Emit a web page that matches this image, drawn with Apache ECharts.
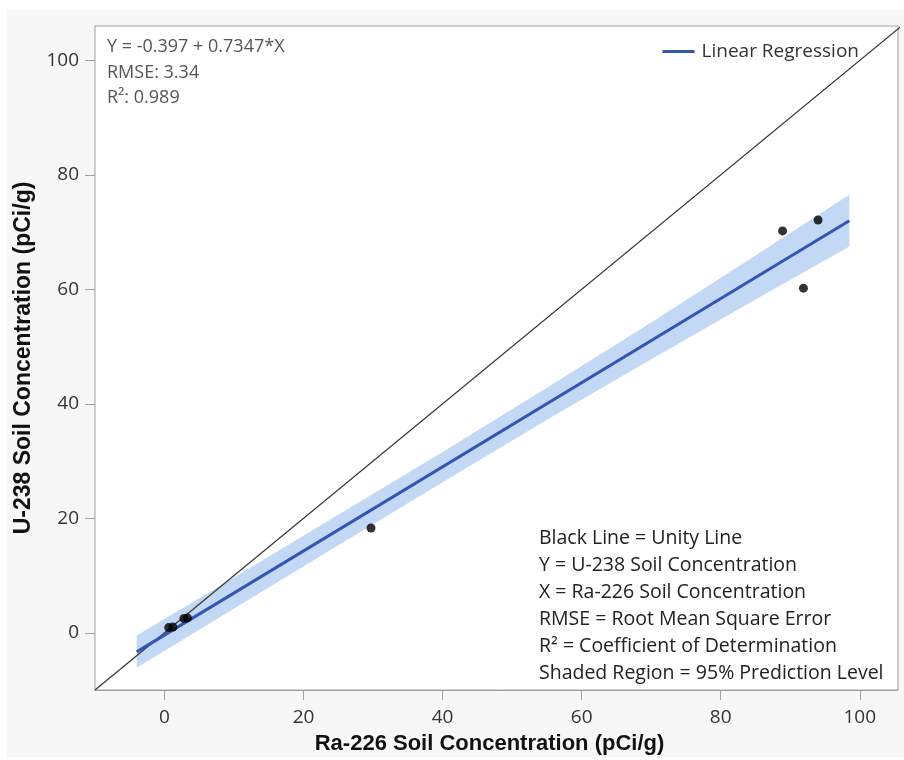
<!DOCTYPE html>
<html>
<head>
<meta charset="utf-8">
<script src="https://cdn.jsdelivr.net/npm/echarts@6/dist/echarts.min.js"></script>
<style>html,body{margin:0;padding:0;background:#fff;}#c{width:904px;height:760px;}</style>
</head>
<body>
<div id="c"></div>
<script>
// Observed points (Ra-226, U-238)
const pointsX = [0.6, 1.2, 2.8, 3.3, 29.7, 88.9, 91.9, 94.0];
const pointsY = [0.9, 1.0, 2.5, 2.6, 18.3, 70.2, 60.2, 72.1];
// Regression line end points
const regX = [-4, 98.5];
const regY = [-3.34, 71.97];
// 95% prediction band
const bandX = [-4, 10, 25, 40, 55, 70, 85, 98.5];
const bandLower = [-6.1, 4.25, 15.3, 26.3, 37.2, 47.8, 58.2, 67.5];
const bandUpper = [-0.5, 9.65, 20.6, 31.6, 42.8, 54.2, 65.9, 76.5];
// Unity line
const unityX = [-10, 106];
const unityY = [-10, 106];
// Ticks
const tickValues = [0, 20, 40, 60, 80, 100];
const xTitle = 'Ra-226 Soil Concentration (pCi/g)';
const yTitle = 'U-238 Soil Concentration (pCi/g)';
const statLines = ['Y = -0.397 + 0.7347*X', 'RMSE: 3.34', 'R²: 0.989'];
const noteLines = ['Black Line = Unity Line', 'Y = U-238 Soil Concentration', 'X = Ra-226 Soil Concentration',
  'RMSE = Root Mean Square Error', 'R² = Coefficient of Determination', 'Shaded Region = 95% Prediction Level'];

const FONT = '"Open Sans", "Noto Sans", sans-serif';
const TITLE_FONT = '"Liberation Sans", Arial, sans-serif';
const chart = echarts.init(document.getElementById('c'), null, {renderer: 'canvas'});

const axisCommon = {
  type: 'value', min: -10,
  axisLine: {show: true, onZero: false, lineStyle: {color: '#a0a0a0', width: 1}},
  axisTick: {show: true, customValues: tickValues, length: 10, lineStyle: {color: '#a0a0a0'}},
  axisLabel: {customValues: tickValues, color: '#333', fontSize: 19, fontFamily: FONT},
  splitLine: {show: false},
  nameLocation: 'middle'
};

const graphics = [
  {type: 'rect', z: -10, silent: true, shape: {x: 7, y: 10, width: 897, height: 747}, style: {fill: '#f7f7f7'}}
];
statLines.forEach((t, i) => graphics.push({type: 'text', x: 107, y: 47 + i * 25.5, z: 100,
  style: {text: t, fill: '#555', font: '18px ' + FONT, verticalAlign: 'middle'}}));
noteLines.forEach((t, i) => graphics.push({type: 'text', x: 539, y: 538 + i * 27.1, z: 100,
  style: {text: t, fill: '#222', font: '19.5px ' + FONT, verticalAlign: 'middle'}}));

chart.setOption({
  backgroundColor: '#ffffff',
  animation: false,
  graphic: graphics,
  grid: {left: 95, right: 6, top: 26, bottom: 67, show: true, backgroundColor: '#ffffff', borderColor: '#a0a0a0', borderWidth: 1, z: 1},
  legend: {
    show: true, right: 40, top: 37, data: ['Linear Regression'],
    icon: 'rect', itemWidth: 32, itemHeight: 3, itemGap: 8,
    textStyle: {color: '#333', fontSize: 19, fontFamily: FONT, padding: [0, 0, 0, 2]}
  },
  xAxis: Object.assign({}, axisCommon, {max: 105.5, name: xTitle, nameGap: 43,
    nameTextStyle: {color: '#111', fontSize: 22, fontWeight: 'bold', fontFamily: TITLE_FONT, padding: [0, 14, 0, 0]},
    axisLabel: Object.assign({}, axisCommon.axisLabel, {margin: 18})}),
  yAxis: Object.assign({}, axisCommon, {max: 106, name: yTitle, nameGap: 57,
    nameTextStyle: {color: '#111', fontSize: 23, fontWeight: 'bold', fontFamily: TITLE_FONT},
    axisLabel: Object.assign({}, axisCommon.axisLabel, {margin: 16})}),
  series: [
    {name: 'band', type: 'custom', silent: true, z: 2, clip: true,
     data: [0],
     renderItem: function (params, api) {
       const pts = [];
       for (let i = 0; i < bandX.length; i++) pts.push(api.coord([bandX[i], bandUpper[i]]));
       for (let i = bandX.length - 1; i >= 0; i--) pts.push(api.coord([bandX[i], bandLower[i]]));
       return {type: 'polygon', shape: {points: pts}, style: {fill: '#c3d8f5'}};
     }},
    {name: 'Unity', type: 'line', data: unityX.map((x, i) => [x, unityY[i]]), symbol: 'none',
     lineStyle: {color: '#333', width: 1.2}, silent: true, z: 3, clip: true},
    {name: 'Linear Regression', type: 'line', data: regX.map((x, i) => [x, regY[i]]), symbol: 'none',
     itemStyle: {color: '#3556b0'}, lineStyle: {color: '#3556b0', width: 3}, z: 4},
    {name: 'Points', type: 'scatter', data: pointsX.map((x, i) => [x, pointsY[i]]), symbolSize: 9,
     itemStyle: {color: '#000'}, z: 5}
  ]
});
</script>
</body>
</html>
